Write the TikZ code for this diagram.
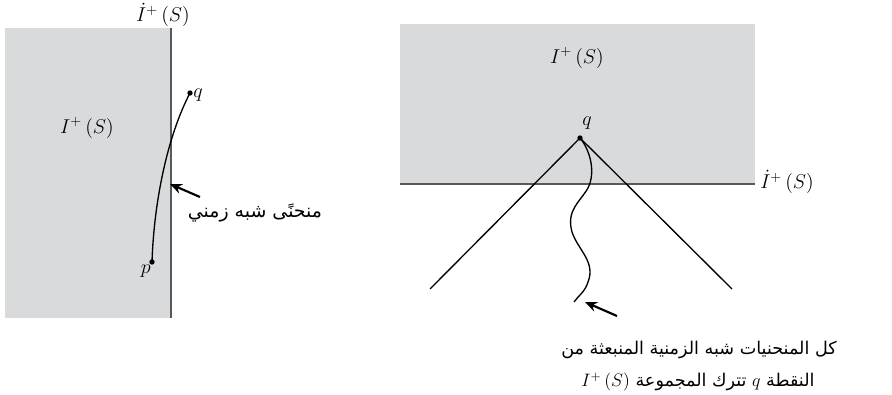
\RequirePackage{fix-cm}
\documentclass[tikz,border=0pt]{standalone}
\usepackage{fontspec}
\newfontfamily\arabicfont[Script=Arabic]{DejaVu Sans}
\TeXXeTstate=1
\usetikzlibrary{arrows.meta}
\definecolor{panelgray}{HTML}{D9DADC}
\definecolor{edgegray}{HTML}{58595B}
\begin{document}
\begin{tikzpicture}[x=0.75pt,y=-0.75pt,
  mathlbl/.style={inner sep=0pt,font=\fontsize{15}{18}\selectfont},
  arlbl/.style={inner sep=0pt,align=center,font=\arabicfont\fontsize{13.2}{22}\selectfont},
  boundary/.style={draw=edgegray,line width=1.5pt},
  curveline/.style={line width=1pt,black},
  pointer/.style={line width=1.6pt,-{Stealth[length=9pt,width=7.5pt]}},
  dotpt/.style={circle,fill=black,inner sep=0pt,minimum size=4pt}]
\useasboundingbox (0,0) rectangle (892,395);
% ---------- left panel ----------
\fill[panelgray] (5,28) rectangle (171,318);
\coordinate (bt) at (171,28);
\coordinate (bb) at (171,318);
\draw[boundary] (bt) -- (bb);
\node[mathlbl] (bdryL) at (163,15) {$\dot I^{+}\,(S)$};
\node[mathlbl] (futL) at (87,128) {$I^{+}\,(S)$};
\node[dotpt] (p) at (152,262) {};
\node[dotpt] (q) at (190,93) {};
\draw[curveline] (p.center) .. controls (154,200) and (168,135) .. (q.center);
\node[mathlbl,anchor=north east] (plbl) at (151,265) {$p$};
\node[mathlbl,anchor=west] (qlbl) at (193,95) {$q$};
\coordinate (aLtail) at (200,197);
\coordinate (aLtip) at (170,184);
\draw[pointer] (aLtail) -- (aLtip);
\node[arlbl,font=\arabicfont\fontsize{14.2}{22}\selectfont] (txtL) at (255,213) {\beginR منحنًى شبه زمني\endR};
% ---------- right panel ----------
\fill[panelgray] (400,24) rectangle (755,184);
\coordinate (hl) at (400,184);
\coordinate (hr) at (755,184);
\draw[boundary] (hl) -- (hr);
\node[mathlbl,anchor=west] (bdryR) at (760,182) {$\dot I^{+}\,(S)$};
\node[mathlbl] (futR) at (577,58) {$I^{+}\,(S)$};
\node[dotpt] (q2) at (580,138) {};
\node[mathlbl] (q2lbl) at (587,123) {$q$};
\coordinate (coneL) at (430,289);
\coordinate (coneR) at (732,289);
\coordinate (wend) at (574,302);
\draw[curveline] (q2.center) -- (coneL);
\draw[curveline] (q2.center) -- (coneR);
\draw[curveline] (q2.center) .. controls (590,150) and (596,172) .. (588,188)
  .. controls (580,202) and (566,210) .. (572,232)
  .. controls (578,250) and (596,262) .. (588,282)
  .. controls (585,292) and (578,296) .. (wend);
\coordinate (aRtail) at (617,316);
\coordinate (aRtip) at (585,302);
\draw[pointer] (aRtail) -- (aRtip);
\node[arlbl] (txtR1) at (699,350) {\beginR كل المنحنيات شبه الزمنية المنبعثة من\endR};
\node[arlbl] (txtR2) at (698,382) {\beginR النقطة \mbox{\fontsize{13.5}{16}\selectfont$q$} تترك المجموعة \mbox{\fontsize{13.5}{16}\selectfont$I^{+}\,(S)$}\endR};
\end{tikzpicture}
\end{document}
